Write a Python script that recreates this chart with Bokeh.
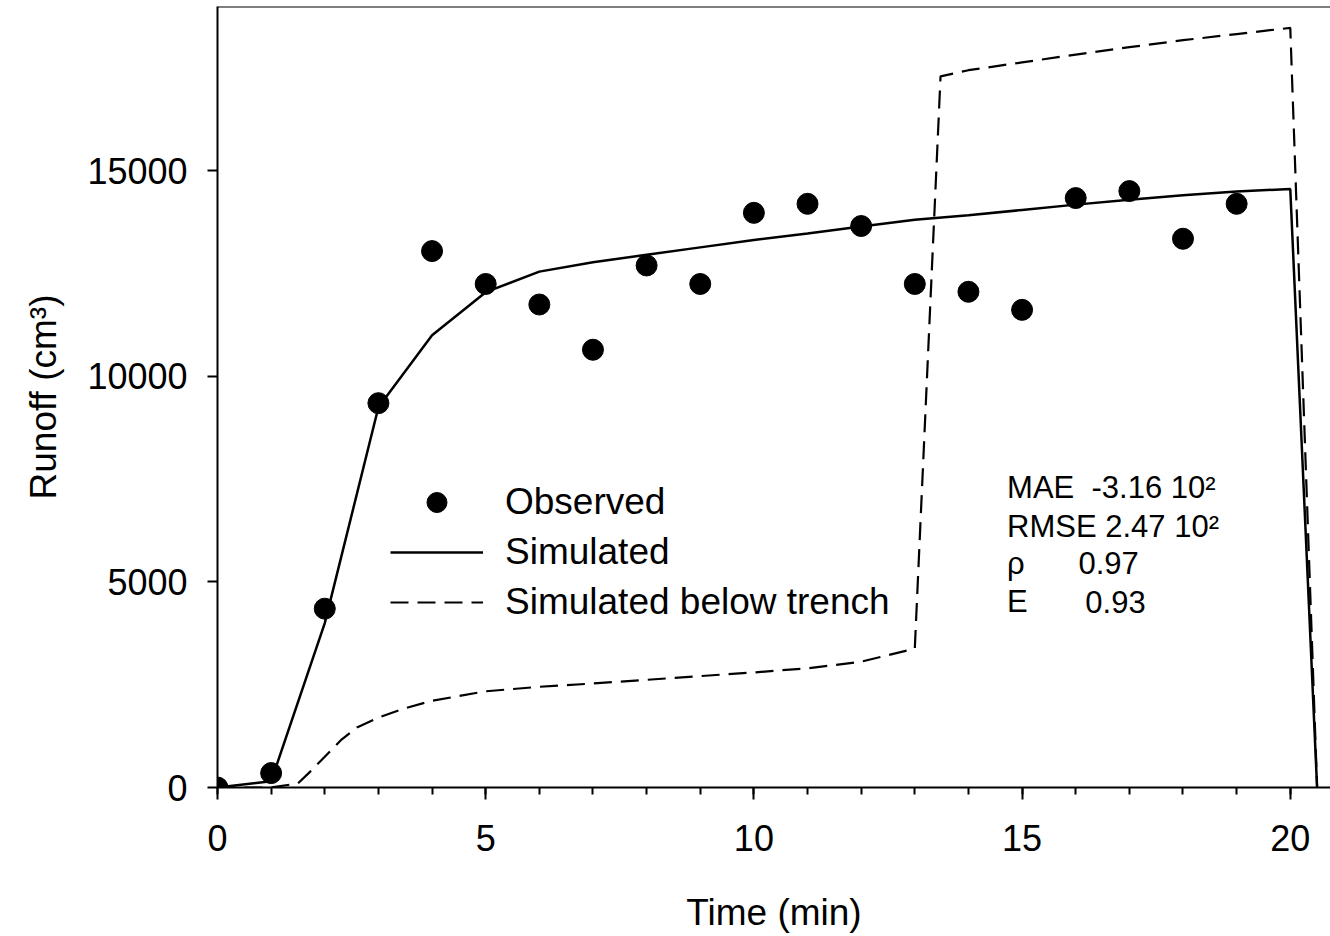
from bokeh.plotting import figure
from bokeh.models import (Range1d, Span, Label, Legend, LegendItem, FixedTicker,
                          SingleIntervalTicker)
from bokeh.embed import file_html
from bokeh.resources import INLINE

# ---- data ----
obs_t = [0, 1, 2, 3, 4, 5, 6, 7, 8, 9, 10, 11, 12, 13, 14, 15, 16, 17, 18, 19]
obs_runoff = [0, 350, 4350, 9350, 13050, 12250, 11750, 10650, 12700, 12250,
              13980, 14200, 13660, 12250, 12060, 11620, 14340, 14510, 13350, 14200]

sim_t = [0, 1, 2, 3, 4, 5, 6, 7, 8, 9, 10, 11, 12, 13, 14, 15, 16, 17, 18, 19, 20, 20.5]
sim_runoff = [0, 150, 4000, 9250, 11000, 12050, 12550, 12780, 12960, 13140, 13320,
              13480, 13650, 13810, 13920, 14050, 14180, 14300, 14410, 14500, 14560, 0]

trench_t = [0, 1.0, 1.5, 1.7, 2.0, 2.3, 2.6, 3.0, 3.5, 4, 5, 6, 7, 8, 9, 10, 11, 12,
            13, 13.48, 14, 15, 16, 17, 18, 19, 20, 20.5]
trench_runoff = [0, 0, 100, 350, 750, 1150, 1460, 1700, 1930, 2110, 2340, 2450, 2530,
                 2620, 2710, 2800, 2900, 3060, 3380, 17300, 17450, 17640, 17830, 18010,
                 18180, 18330, 18480, 0]

x_ticks_major = 5
y_ticks = [0, 5000, 10000, 15000]

stat_names = ["MAE\u00a0 -3.16 10\u00b2", "RMSE 2.47 10\u00b2", "\u03c1", "E"]
stat_values = ["", "", "0.97", "0.93"]

FONT = "Liberation Sans"

p = figure(width=1330, height=936, output_backend="svg", toolbar_location=None,
           x_range=Range1d(0, 20.75), y_range=Range1d(0, 19000),
           min_border_left=217, min_border_right=0, min_border_top=6,
           min_border_bottom=149)
p.outline_line_color = None
p.xgrid.visible = False
p.ygrid.visible = False
p.background_fill_color = "white"
p.border_fill_color = "white"

# top frame line
p.add_layout(Span(location=19000, dimension="width", line_color="black", line_width=2))

# lines
sim_r = p.line(sim_t, sim_runoff, line_color="black", line_width=2.5)
tr_r = p.line(trench_t, trench_runoff, line_color="black", line_width=2.2,
              line_dash="18 9")
obs_r = p.scatter(obs_t, obs_runoff, size=21, marker="circle", fill_color="black",
                  line_color="black")

# axes
for ax in (p.xaxis[0], p.yaxis[0]):
    ax.axis_line_width = 2
    ax.axis_line_color = "black"
    ax.major_tick_line_width = 2
    ax.minor_tick_line_width = 2
    ax.major_tick_in = 0
    ax.minor_tick_in = 0
    ax.major_label_text_font = FONT
    ax.major_label_text_font_size = "36px"
    ax.major_label_text_color = "black"
    ax.axis_label_text_font = FONT
    ax.axis_label_text_font_size = "37px"
    ax.axis_label_text_font_style = "normal"
    ax.axis_label_text_color = "black"

p.xaxis.ticker = SingleIntervalTicker(interval=x_ticks_major, num_minor_ticks=5)
p.xaxis.major_tick_out = 12
p.xaxis.minor_tick_out = 7
p.xaxis.major_label_standoff = 25
p.xaxis.axis_label = "Time (min)"
p.xaxis.axis_label_standoff = 38

p.yaxis.ticker = FixedTicker(ticks=y_ticks, minor_ticks=[])
p.yaxis.major_tick_out = 10
p.yaxis.major_label_standoff = 20
p.yaxis.axis_label = "Runoff (cm\u00b3)"
p.yaxis.axis_label_standoff = 20

# legend
legend = Legend(items=[LegendItem(label="Observed", renderers=[obs_r]),
                       LegendItem(label="Simulated", renderers=[sim_r]),
                       LegendItem(label="Simulated below trench", renderers=[tr_r])],
                location=(173, 160), glyph_width=93, glyph_height=50, label_height=50,
                label_standoff=22, spacing=0, padding=0, margin=0,
                border_line_color=None, background_fill_alpha=0,
                label_text_font=FONT, label_text_font_size="37px",
                label_text_color="black")
p.add_layout(legend)

# statistics text (positions in data units)
name_x = 14.72
value_x = [0, 0, 16.05, 16.18]
base_y = [7300, 6360, 5450, 4520]
for i in range(4):
    p.add_layout(Label(x=name_x, y=base_y[i], text=stat_names[i], text_font=FONT,
                       text_font_size="31px", text_baseline="alphabetic",
                       text_color="black"))
    if stat_values[i]:
        p.add_layout(Label(x=value_x[i], y=base_y[i], text=stat_values[i],
                           text_font=FONT, text_font_size="31px",
                           text_baseline="alphabetic", text_color="black"))

open("out.html", "w").write(file_html(p, INLINE))
